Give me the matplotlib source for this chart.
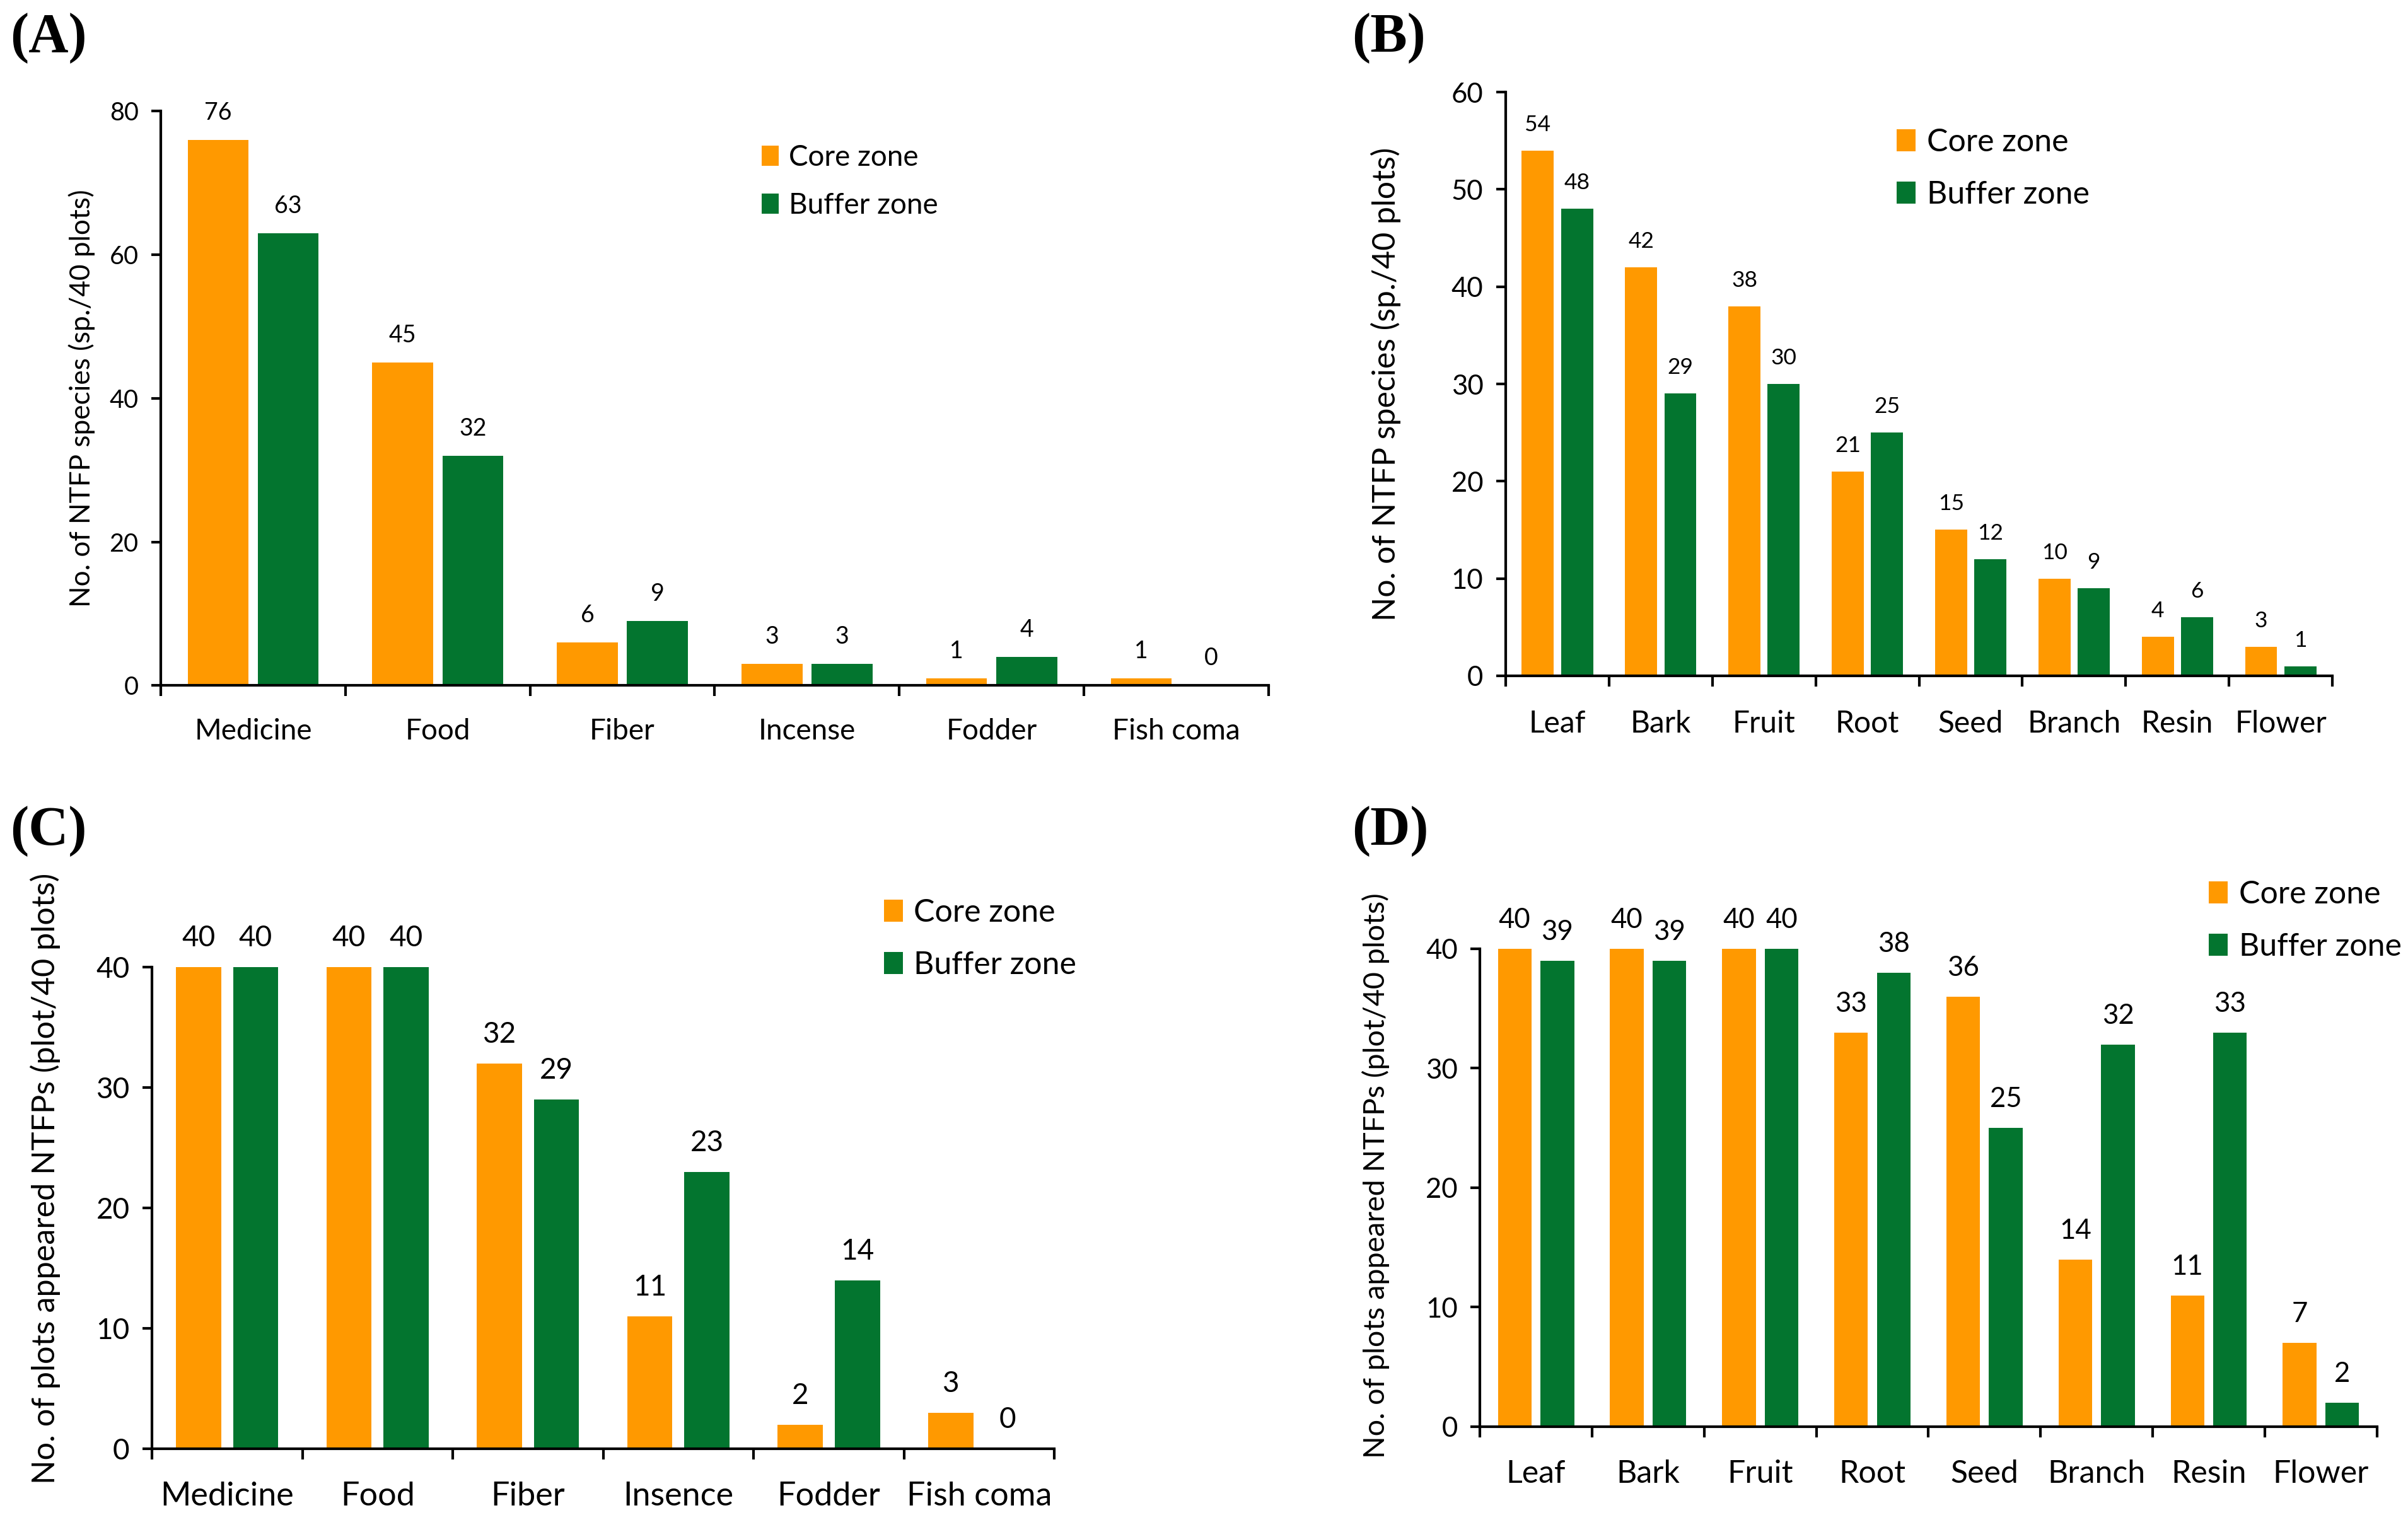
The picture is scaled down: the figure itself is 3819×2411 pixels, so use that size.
import matplotlib
matplotlib.use("Agg")
import matplotlib.pyplot as plt
import numpy as np

plt.rcParams['font.family'] = ['Lato', 'DejaVu Sans']

# data
uses = ['Medicine', 'Food', 'Fiber', 'Incense', 'Fodder', 'Fish coma']
uses_c = ['Medicine', 'Food', 'Fiber', 'Insence', 'Fodder', 'Fish coma']
parts = ['Leaf', 'Bark', 'Fruit', 'Root', 'Seed', 'Branch', 'Resin', 'Flower']

sp_use_core = [76, 45, 6, 3, 1, 1]
sp_use_buffer = [63, 32, 9, 3, 4, 0]
sp_part_core = [54, 42, 38, 21, 15, 10, 4, 3]
sp_part_buffer = [48, 29, 30, 25, 12, 9, 6, 1]
plot_use_core = [40, 40, 32, 11, 2, 3]
plot_use_buffer = [40, 40, 29, 23, 14, 0]
plot_part_core = [40, 40, 40, 33, 36, 14, 11, 7]
plot_part_buffer = [39, 39, 40, 38, 25, 32, 33, 2]

ORANGE = '#FF9900'
GREEN = '#03752F'

fig = plt.figure(figsize=(3819 / 300, 2411 / 300), dpi=300)


def panel(rect, cats, core, buf, ymax, ystep, ylabel, lab_x, lab_y,
          fs_tick, fs_val, fs_cat, fs_ylab, width, cat_pad, leg_xy, fs_leg):
    ax = fig.add_axes(rect)
    x = np.arange(len(cats))
    b1 = ax.bar(x - 0.19, core, width, color=ORANGE, label='Core zone')
    b2 = ax.bar(x + 0.19, buf, width, color=GREEN, label='Buffer zone')
    for bars in (b1, b2):
        for r in bars:
            ax.annotate(f'{int(r.get_height())}',
                        (r.get_x() + r.get_width() / 2, r.get_height()),
                        xytext=(0, 6), textcoords='offset points',
                        ha='center', va='bottom', fontsize=fs_val,
                        annotation_clip=False)
    ax.set_xlim(-0.5, len(cats) - 0.5)
    ax.set_ylim(0, ymax)
    ax.set_yticks(np.arange(0, ymax + 1, ystep))
    # group boundaries get the tick marks, names sit between them
    ax.set_xticks(np.arange(len(cats) + 1) - 0.5)
    ax.set_xticklabels([])
    ax.set_xticks(x, minor=True)
    ax.set_xticklabels(cats, minor=True, fontsize=fs_cat)
    ax.tick_params(axis='x', which='major', length=4, width=1)
    ax.tick_params(axis='x', which='minor', length=0, pad=cat_pad)
    ax.tick_params(axis='y', length=3.5, width=1, pad=5, labelsize=fs_tick)
    for s in ('top', 'right'):
        ax.spines[s].set_visible(False)
    for s in ('left', 'bottom'):
        ax.spines[s].set_linewidth(1)
    ax.set_ylabel(ylabel, fontsize=fs_ylab)
    ax.yaxis.set_label_coords(lab_x, lab_y)
    ax.legend(loc='upper left', bbox_to_anchor=leg_xy,
              bbox_transform=fig.transFigure, frameon=False,
              fontsize=fs_leg, handlelength=0.6, handleheight=0.7,
              handletextpad=0.35, labelspacing=0.74, borderpad=0,
              borderaxespad=0)
    return ax


panel([0.0668, 0.5490, 0.4600, 0.3780], uses, sp_use_core, sp_use_buffer,
      80, 20, 'No. of NTFP species (sp./40 plots)', -0.059, 0.5,
      9.5, 9, 11, 10.6, 0.33, 12.5, (0.3163, 0.905), 11)

panel([0.6253, 0.5554, 0.3433, 0.3840], parts, sp_part_core, sp_part_buffer,
      60, 10, 'No. of NTFP species (sp./40 plots)', -0.127, 0.5,
      10.5, 8.5, 11.5, 12, 0.31, 13, (0.7877, 0.916), 12)

panel([0.0631, 0.0469, 0.3748, 0.3168], uses_c, plot_use_core, plot_use_buffer,
      40, 10, 'No. of plots appeared NTFPs (plot/40 plots)', -0.101, 0.561,
      11, 11, 12.5, 12.1, 0.30, 12.5, (0.367, 0.409), 12)

panel([0.6146, 0.0614, 0.3725, 0.3144], parts, plot_part_core, plot_part_buffer,
      40, 10, 'No. of plots appeared NTFPs (plot/40 plots)', -0.1005, 0.525,
      10.5, 10.5, 12, 11.2, 0.30, 12.5, (0.9173, 0.421), 12)

for lab, fx, fy in [('(A)', 0.0042, 0.975), ('(B)', 0.5614, 0.975),
                    ('(C)', 0.0042, 0.453), ('(D)', 0.5614, 0.453)]:
    fig.text(fx, fy, lab, family='Liberation Serif', fontweight='bold',
             fontsize=21, ha='left', va='center')

fig.savefig('out.png', dpi=300)
